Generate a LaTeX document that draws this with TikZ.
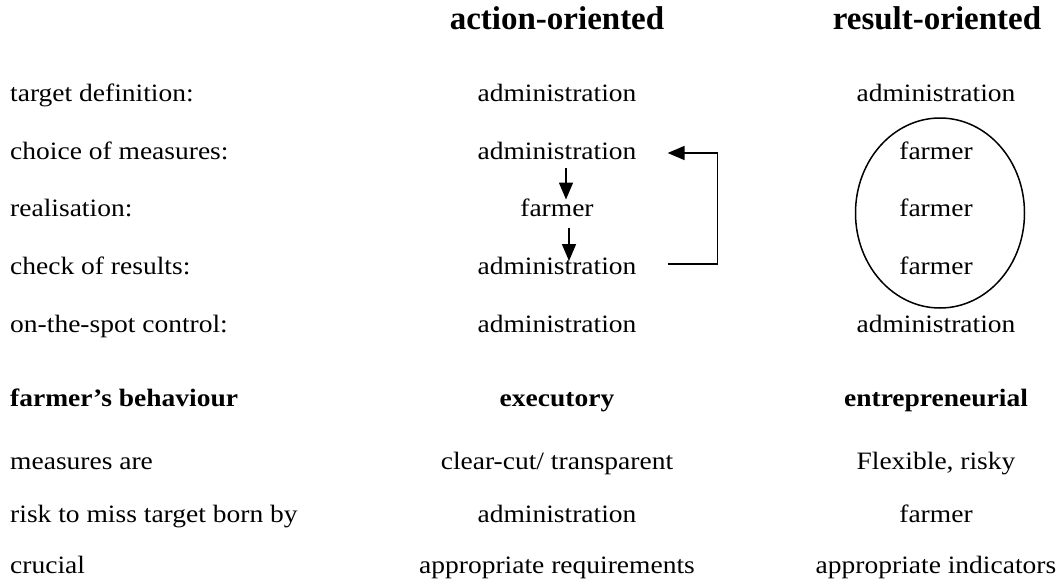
\documentclass[tikz,border=0pt]{standalone}
\usepackage{fontspec}
\setmainfont{Liberation Serif}
\newfontfamily\bodyfont[FakeStretch=1.1]{Liberation Serif}
\usetikzlibrary{arrows.meta,calc,shapes.geometric}
\begin{document}
\begin{tikzpicture}[x=1pt,y=-1pt,
  every node/.style={inner sep=0pt, anchor=base},
  body/.style={font=\bodyfont\fontsize{25}{30}\selectfont},
  bodyb/.style={font=\bodyfont\bfseries\fontsize{25}{30}\selectfont},
  lbl/.style={body, anchor=base west},
  lblb/.style={bodyb, anchor=base west},
  head/.style={font=\bfseries\fontsize{33}{40}\selectfont},
  arr/.style={line width=1.6pt, -{Triangle[length=17pt,width=14pt]}},
  ring/.style={draw, ellipse, line width=1.5pt, anchor=center, minimum width=169pt, minimum height=190pt}]
\useasboundingbox (0,0) rectangle (1061,584);
% headers
\node[head] (h1) at (557,29) {action-oriented};
\node[head] (h2) at (937,29) {result-oriented};
% left labels
\node[lbl] (l1) at (10,101) {target definition:};
\node[lbl] (l2) at (10,159) {choice of measures:};
\node[lbl] (l3) at (10,216.5) {realisation:};
\node[lbl] (l4) at (10,274) {check of results:};
\node[lbl] (l5) at (10,332) {on-the-spot control:};
\node[lblb] (l6) at (10,406) {farmer’s behaviour};
\node[lbl] (l7) at (10,469) {measures are};
\node[lbl] (l8) at (10,522) {risk to miss target born by};
\node[lbl] (l9) at (10,573) {crucial};
% middle column
\node[body] (m1) at (557,101) {administration};
\node[body] (m2) at (557,159) {administration};
\node[body] (m3) at (557,216.5) {farmer};
\node[body] (m4) at (557,274) {administration};
\node[body] (m5) at (557,332) {administration};
\node[bodyb] (m6) at (557,406) {executory};
\node[body] (m7) at (557,469) {clear-cut/ transparent};
\node[body] (m8) at (557,522) {administration};
\node[body] (m9) at (557,573) {appropriate requirements};
% right column
\node[body] (r1) at (936,101) {administration};
\node[body] (r2) at (936,159) {farmer};
\node[body] (r3) at (936,216.5) {farmer};
\node[body] (r4) at (936,274) {farmer};
\node[body] (r5) at (936,332) {administration};
\node[bodyb] (r6) at (936,406) {entrepreneurial};
\node[body] (r7) at (936,469) {Flexible, risky};
\node[body] (r8) at (936,522) {farmer};
\node[body] (r9) at (936,573) {appropriate indicators};
% ellipse
\node[ring] (ell) at (940,213) {};
% arrows
\draw[arr] ($(m2.base)+(9,9)$) -- ($(m3.base)+(9,-17)$);
\draw[arr] ($(m3.base)+(12,11)$) -- ($(m4.base)+(12,-13)$);
\draw[arr] ($(m4.base east)+(31,-10)$) -| ($(m2.base east)+(81,-6)$) -- ($(m2.base east)+(31,-6)$);
\end{tikzpicture}
\end{document}
